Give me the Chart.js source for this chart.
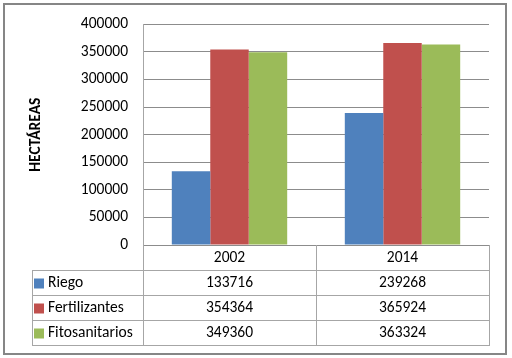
<!DOCTYPE html>
<html>
<head>
<meta charset="utf-8">
<script src="https://cdn.jsdelivr.net/npm/chart.js@4.4.1/dist/chart.umd.min.js"></script>
<style>
  html, body { margin: 0; padding: 0; background: #fff; }
  #wrap { width: 512px; height: 358px; position: relative; }
</style>
</head>
<body>
<div id="wrap"><canvas id="chart" width="512" height="358"></canvas></div>
<script>
// datos del gráfico
const years = ['2002', '2014'];
const seriesNames = ['Riego', 'Fertilizantes', 'Fitosanitarios'];
const riego = [133716, 239268];
const fertilizantes = [354364, 365924];
const fitosanitarios = [349360, 363324];
const yTicks = [0, 50000, 100000, 150000, 200000, 250000, 300000, 350000, 400000];

const colors = ['#4F81BD', '#C0504D', '#9BBB59'];
const fontFam = "Carlito, Calibri, Lato, sans-serif";
const lineGray = '#A6A6A6';
const fs = 15.5;

Chart.defaults.font.family = fontFam;
Chart.defaults.color = '#000';

// tabla de datos debajo del gráfico (como en Excel)
const dataTable = {
  id: 'dataTable',
  beforeDraw(chart) {
    const ctx = chart.ctx;
    ctx.save();
    ctx.fillStyle = '#fff';
    ctx.fillRect(0, 0, chart.width, chart.height);
    ctx.strokeStyle = '#868686';
    ctx.lineWidth = 2;
    ctx.strokeRect(4, 4, 502, 350);
    ctx.restore();
  },
  afterDraw(chart) {
    const ctx = chart.ctx;
    const area = chart.chartArea;
    const x = chart.scales.x;
    const rowH = 25;
    const top = area.bottom;
    const legendLeft = 32;
    const bounds = [area.left];
    for (let i = 0; i < years.length - 1; i++) {
      bounds.push(Math.round((x.getPixelForValue(i) + x.getPixelForValue(i + 1)) / 2));
    }
    bounds.push(area.right);
    const rows = [riego, fertilizantes, fitosanitarios];
    const bottom = top + rowH * (rows.length + 1);

    ctx.save();
    ctx.strokeStyle = lineGray;
    ctx.lineWidth = 1;
    ctx.beginPath();
    for (let r = 1; r <= rows.length + 1; r++) {
      const yy = top + r * rowH + 0.5;
      ctx.moveTo(legendLeft, yy);
      ctx.lineTo(area.right + 1, yy);
    }
    bounds.forEach(b => {
      ctx.moveTo(b + 0.5, top);
      ctx.lineTo(b + 0.5, bottom + 1);
    });
    ctx.moveTo(legendLeft + 0.5, top + rowH);
    ctx.lineTo(legendLeft + 0.5, bottom + 1);
    ctx.stroke();

    ctx.font = fs + 'px ' + fontFam;
    ctx.fillStyle = '#000';
    ctx.textBaseline = 'middle';
    ctx.textAlign = 'center';
    years.forEach((yr, i) => {
      const cx = x.getPixelForValue(i);
      ctx.fillText(yr, cx, top + rowH / 2 + 1);
      rows.forEach((vals, r) => {
        ctx.fillText(String(vals[i]), cx, top + (r + 1) * rowH + rowH / 2 + 1);
      });
    });
    ctx.textAlign = 'left';
    seriesNames.forEach((name, r) => {
      const cy = top + (r + 1) * rowH + rowH / 2;
      ctx.fillStyle = colors[r];
      ctx.fillRect(34, cy - 4, 10, 10);
      ctx.fillStyle = '#000';
      ctx.fillText(name, 48, cy + 1);
    });
    ctx.restore();
  }
};

new Chart(document.getElementById('chart'), {
  type: 'bar',
  data: {
    labels: years,
    datasets: [
      { label: seriesNames[0], data: riego, backgroundColor: colors[0] },
      { label: seriesNames[1], data: fertilizantes, backgroundColor: colors[1] },
      { label: seriesNames[2], data: fitosanitarios, backgroundColor: colors[2] }
    ]
  },
  options: {
    responsive: false,
    animation: false,
    events: [],
    layout: { padding: { top: 22, right: 23, bottom: 113, left: 0 } },
    datasets: { bar: { categoryPercentage: 0.667, barPercentage: 1.0 } },
    plugins: { legend: { display: false }, tooltip: { enabled: false } },
    scales: {
      x: { display: false, offset: true },
      y: {
        min: 0, max: 400000,
        afterFit(scale) { scale.width = 143; },
        afterBuildTicks(scale) { scale.ticks = yTicks.map(v => ({ value: v })); },
        ticks: { padding: 15, font: { size: fs }, color: '#000', callback: v => String(v) },
        grid: { color: '#8C8C8C', drawTicks: false },
        border: { display: true, color: lineGray },
        title: {
          display: true,
          text: 'HECTÁREAS',
          font: { size: fs, weight: 'bold' },
          color: '#000',
          padding: { top: 27, bottom: 0 }
        }
      }
    }
  },
  plugins: [dataTable]
});
</script>
</body>
</html>
